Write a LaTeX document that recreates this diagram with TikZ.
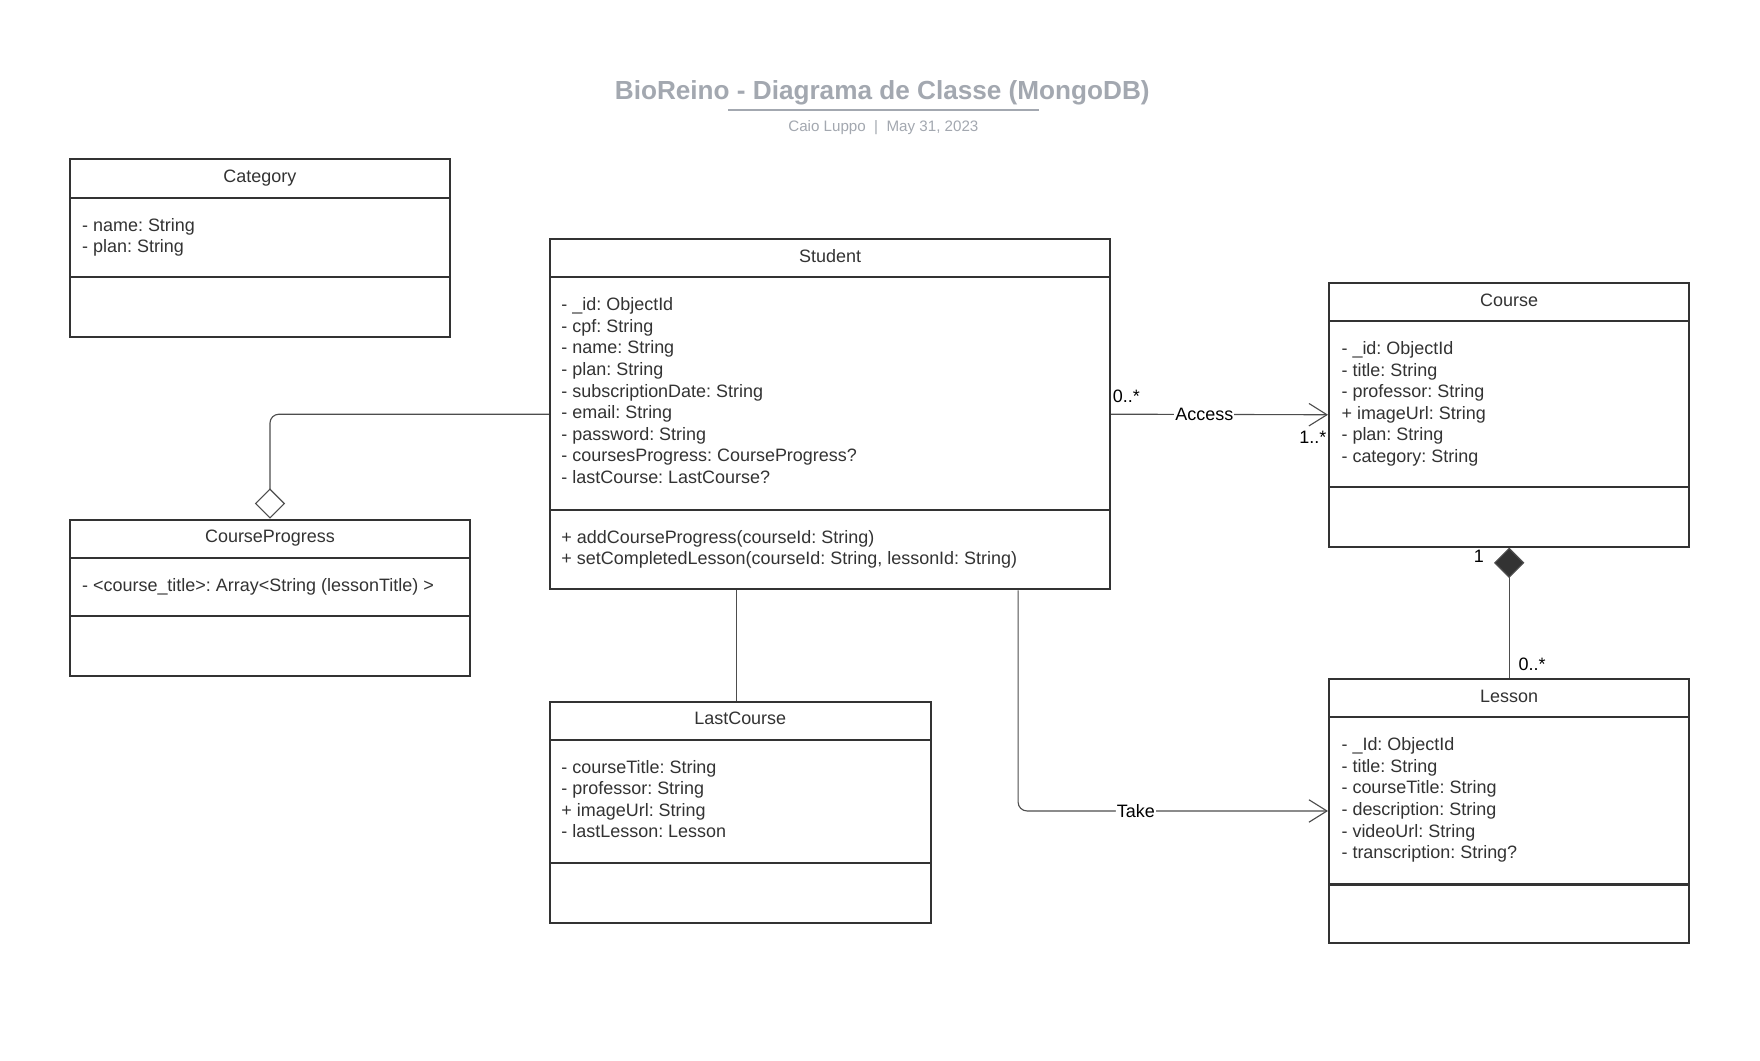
\documentclass[tikz,border=0pt]{standalone}
\usepackage{fontspec}
\setmainfont{Liberation Sans}
\usetikzlibrary{arrows.meta,positioning}
\definecolor{umlline}{HTML}{333333}
\definecolor{connline}{HTML}{4D4D4D}
\definecolor{titlegray}{HTML}{A3A8B0}
\tikzset{every picture/.append style={x=1pt,y=-1pt}}
\tikzset{classbox/.style={draw=umlline, line width=1.8pt, rectangle, inner sep=0pt}}
\tikzset{divider/.style={draw=umlline, line width=1.8pt}}
\tikzset{classname/.style={anchor=base, text=umlline, font=\fontsize{16}{19.2}\selectfont}}
\tikzset{members/.style={anchor=north west, align=left, inner sep=0pt, text=umlline, font=\fontsize{16}{19.2}\selectfont}}
\tikzset{assoc/.style={draw=connline, line width=1pt}}
\tikzset{lbl/.style={text=black, inner sep=1pt, font=\fontsize{16}{19.2}\selectfont}}
\tikzset{openhead/.style={-{Straight Barb[length=16pt, width=20pt]}}}

\begin{document}
\frenchspacing
\begin{tikzpicture}
\fill[white] (0,0) rectangle (1568,945);

\node[anchor=base, text=titlegray, font=\bfseries\fontsize{23.3}{28}\selectfont] (title) at (786,88.3) {BioReino - Diagrama de Classe (MongoDB)};
\draw[titlegray, line width=2pt] (649,98) -- (926,98);
\node[anchor=base, text=titlegray, font=\fontsize{13.5}{16}\selectfont] (subtitle) at (787,116.8) {Caio Luppo\ \ |\ \ May 31, 2023};

% Category
\node[classbox, minimum width=339pt, minimum height=158pt] (cat) at (231.5,221) {};
\node[classname] (catname) at (231.5,163) {Category};
\draw[divider] (62,176) -- (401,176);
\draw[divider] (62,247) -- (401,247);
\node[members] (catattr) at (73,192.3) {\strut- name: String\\- plan: String};

% Student
\node[classbox, minimum width=499pt, minimum height=312pt] (student) at (739.5,369) {};
\node[classname] (studentname) at (739.5,233.7) {Student};
\draw[divider] (490,247) -- (989,247);
\draw[divider] (490,454) -- (989,454);
\node[members] (studentattr) at (500,263.3) {\strut- \_id: ObjectId\\- cpf: String\\- name: String\\- plan: String\\- subscriptionDate: String\\- email: String\\- password: String\\- coursesProgress: CourseProgress?\\- lastCourse: LastCourse?};
\node[members] (studentops) at (500,470.3) {\strut+ addCourseProgress(courseId: String)\\+ setCompletedLesson(courseId: String, lessonId: String)};

% Course
\node[classbox, minimum width=321pt, minimum height=235pt] (course) at (1344.5,369.5) {};
\node[classname] (coursename) at (1344.5,272.7) {Course};
\draw[divider] (1184,286) -- (1505,286);
\draw[divider] (1184,434) -- (1505,434);
\node[members] (courseattr) at (1195,302.3) {\strut- \_id: ObjectId\\- title: String\\- professor: String\\+ imageUrl: String\\- plan: String\\- category: String};

% CourseProgress
\node[classbox, minimum width=357pt, minimum height=139pt] (cprog) at (240.5,532.5) {};
\node[classname] (cprogname) at (240.5,483.7) {CourseProgress};
\draw[divider] (62,497) -- (419,497);
\draw[divider] (62,549) -- (419,549);
\node[members] (cprogattr) at (73,513.3) {\strut- <course\_title>: Array<String (lessonTitle) >};

% LastCourse
\node[classbox, minimum width=339pt, minimum height=197pt] (lastc) at (659.5,723.5) {};
\node[classname] (lastcname) at (659.5,645.7) {LastCourse};
\draw[divider] (490,659) -- (829,659);
\draw[divider] (490,769) -- (829,769);
\node[members] (lastcattr) at (500,675.3) {\strut- courseTitle: String\\- professor: String\\+ imageUrl: String\\- lastLesson: Lesson};

% Lesson
\node[classbox, minimum width=321pt, minimum height=235pt] (lesson) at (1344.5,722.5) {};
\node[classname] (lessonname) at (1344.5,625.7) {Lesson};
\draw[divider] (1184,639) -- (1505,639);
\draw[divider] (1184,788) -- (1505,788);
\node[members] (lessonattr) at (1195,655.3) {\strut- \_Id: ObjectId\\- title: String\\- courseTitle: String\\- description: String\\- videoUrl: String\\- transcription: String?};

% links
\draw[assoc, rounded corners=8pt, -{Diamond[open, fill=white, length=27pt, width=27pt]}] (student.west) -| (cprog.north);
\draw[assoc, openhead] (student.east) -- (course.west)
  node[lbl, pos=0.43, fill=white] {Access}
  node[lbl, at start, anchor=base west, yshift=10pt] {0..*}
  node[lbl, at end, anchor=base east, yshift=-26pt] {1..*};
\draw[assoc, {Diamond[fill=umlline, length=27pt, width=27pt]}-] (course.south) -- (lesson.north)
  node[lbl, at start, anchor=base east, xshift=-21pt, yshift=-13.5pt] {1}
  node[lbl, at end, anchor=base west, xshift=7pt, yshift=6.5pt] {0..*};
\draw[assoc] ([xshift=-3.5pt]lastc.north |- student.south) -- ([xshift=-3.5pt]lastc.north);
\draw[assoc, rounded corners=8pt, openhead] ([xshift=167.5pt]student.south) |- (lesson.west)
  node[lbl, pos=0.69, fill=white] {Take};
\end{tikzpicture}
\end{document}
